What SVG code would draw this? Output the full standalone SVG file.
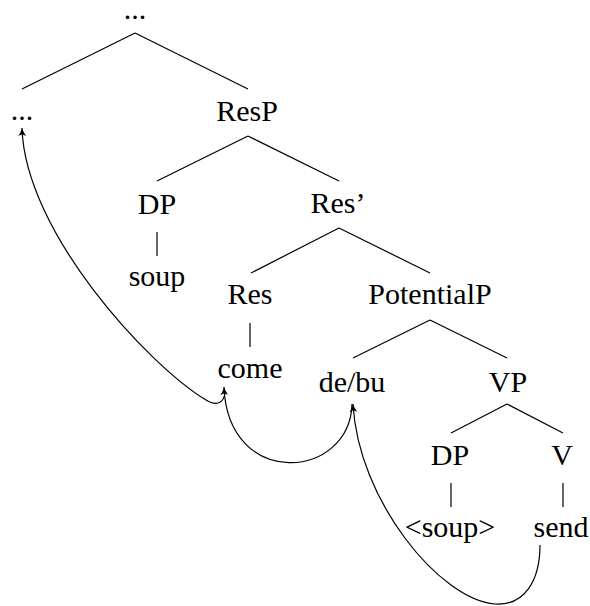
<svg xmlns="http://www.w3.org/2000/svg" width="590" height="606" viewBox="0 0 590 606">
<style>
.t text{font-family:"Liberation Serif","Times New Roman",serif;font-size:30px;fill:#000;text-anchor:middle}
.e line{stroke:#000;stroke-width:1.2}
.mv path{fill:none;stroke:#000;stroke-width:1.2}
</style>
<defs>
<marker id="ah" markerUnits="userSpaceOnUse" viewBox="-1 -5 10 10" markerWidth="10" markerHeight="10" refX="8" refY="0" orient="auto">
<path d="M8,0 C5,-0.8 2,-2.5 0,-4 L1.8,0 L0,4 C2,2.5 5,0.8 8,0z" fill="#000"/>
</marker>
</defs>
<g id="nodes" class="t">
<g id="n-top"><text x="135" y="19">...</text></g>
<g id="n-dots"><text x="22" y="120">...</text></g>
<g id="n-resp"><text x="247" y="121">ResP</text></g>
<g id="n-dp1"><text x="157" y="214">DP</text></g>
<g id="n-soup"><text x="157" y="286">soup</text></g>
<g id="n-resbar"><text x="338" y="213">Res’</text></g>
<g id="n-res"><text x="250" y="304">Res</text></g>
<g id="n-potp"><text x="430" y="304">PotentialP</text></g>
<g id="n-come"><text x="250" y="378">come</text></g>
<g id="n-debu"><text x="352" y="392">de/bu</text></g>
<g id="n-vp"><text x="508" y="392">VP</text></g>
<g id="n-dp2"><text x="450" y="465">DP</text></g>
<g id="n-v"><text x="562" y="465">V</text></g>
<g id="n-tsoup"><text x="450" y="537">&lt;soup&gt;</text></g>
<g id="n-send"><text x="561" y="537">send</text></g>
</g>
<g id="connectors">
<g class="e">
<line x1="135" y1="33" x2="22" y2="89"/>
<line x1="135" y1="33" x2="248" y2="89"/>
<line x1="248" y1="136" x2="157" y2="181"/>
<line x1="248" y1="136" x2="339" y2="181"/>
<line x1="157" y1="232" x2="157" y2="256"/>
<line x1="339" y1="228" x2="251" y2="273"/>
<line x1="339" y1="228" x2="430" y2="273"/>
<line x1="250" y1="323" x2="250" y2="347"/>
<line x1="430" y1="320" x2="353" y2="358"/>
<line x1="430" y1="320" x2="507" y2="358"/>
<line x1="507" y1="404" x2="451" y2="433"/>
<line x1="507" y1="404" x2="563" y2="433"/>
<line x1="451" y1="483" x2="451" y2="507"/>
<line x1="563" y1="483" x2="563" y2="507"/>
</g>
<g class="mv">
<path d="M225,392 C224,404 216,406 206,400 C148,365 25,232 22,128" marker-end="url(#ah)"/>
<path d="M352,404 C350,480 228,490 224,387" marker-end="url(#ah)"/>
<path d="M540,545 C540,580 525,606 495,604 C440,600 358,500 353,404" marker-end="url(#ah)"/>
</g>
</g>
</svg>
